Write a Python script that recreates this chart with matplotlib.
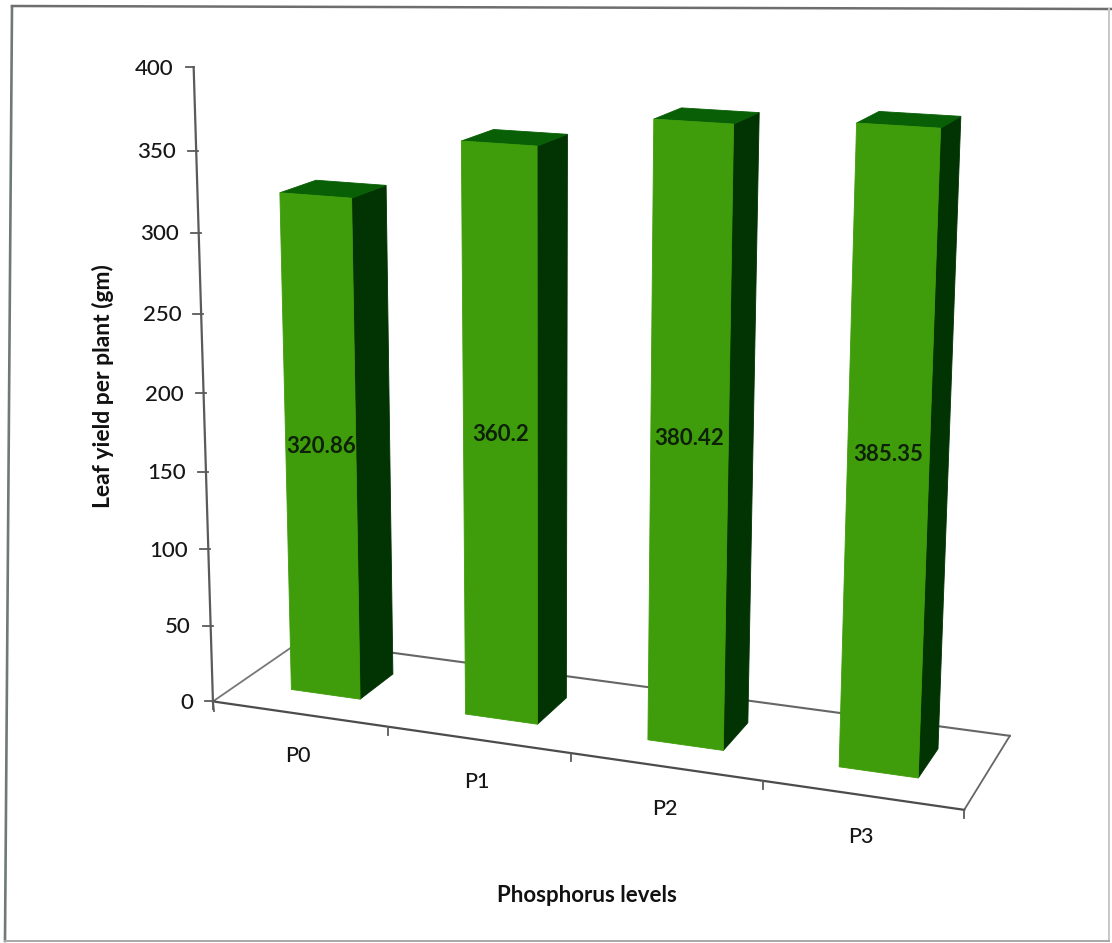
import numpy as np
import matplotlib
matplotlib.use("Agg")
import matplotlib.pyplot as plt
from matplotlib.patches import Polygon

# Chart data
categories = ["P0", "P1", "P2", "P3"]
leaf_yield = [320.86, 360.2, 380.42, 385.35]
value_labels = ["320.86", "360.2", "380.42", "385.35"]
value_ticks = [0, 50, 100, 150, 200, 250, 300, 350, 400]
x_title = "Phosphorus levels"
y_title = "Leaf yield per plant (gm)"

# Box proportions within a category slot (gap width and gap depth of 150%)
BAR_SPAN = (0.30, 0.70)
DEPTH_SPAN = (0.30, 0.70)
FLOOR_DEPTH = 1.0

# Colours
FRONT = "#3f9d0b"
TOP = "#085f05"
SIDE = "#023303"
AXIS = "#5a5a5a"
INK = "#161616"

plt.rcParams["font.family"] = ["Lato", "DejaVu Sans"]

# Perspective camera: solved from (slot, value, depth) -> canvas anchor pairs
view_world = np.array([
    (0, 0, 0), (4, 0, 0), (4, 0, 1), (0, 0, 1),
    (0, 100, 0), (0, 200, 0), (0, 300, 0), (0, 400, 0),
    (1, 0, 0), (2, 0, 0), (3, 0, 0),
    (3.3, 385.35, 0.3), (3.7, 385.35, 0.7), (0.3, 320.86, 0.3), (1.7, 360.2, 0.7),
], float)
view_canvas = np.array([
    (213, 701), (963, 808), (1010, 736), (301, 640),
    (208, 549), (204, 392), (198, 232), (193, 68),
    (388, 727), (571, 755), (763, 782),
    (857, 123), (961, 115), (281, 193), (567, 136),
], float)


def solve_camera(world, canvas):
    rows, rhs = [], []
    for (a, b, c), (px, py) in zip(world, canvas):
        rows.append([a, b, c, 1, 0, 0, 0, 0, -px * a, -px * b, -px * c])
        rows.append([0, 0, 0, 0, a, b, c, 1, -py * a, -py * b, -py * c])
        rhs += [px, py]
    sol = np.linalg.lstsq(np.array(rows), np.array(rhs), rcond=None)[0]
    return np.append(sol, 1.0).reshape(3, 4)


CAMERA = solve_camera(view_world, view_canvas)


def project(slot, value, depth):
    p = CAMERA @ np.array([slot, value, depth, 1.0])
    return p[0] / p[2], p[1] / p[2]


fig = plt.figure(figsize=(11.12, 9.43), dpi=100, facecolor="white")
ax = fig.add_axes([0, 0, 1, 1])
ax.set_xlim(0, 1112)
ax.set_ylim(943, 0)
ax.axis("off")

# Outer chart frame, slightly skewed on the left
ax.plot([12, 5], [7, 941], color="#6f7a78", lw=1.9)
ax.plot([12, 1112], [6, 9], color="#6e6e6e", lw=1.8)
ax.plot([1109, 1109], [9, 941], color="#c8c8c8", lw=1.4)
ax.plot([5, 1109], [941, 941], color="#a8a8a8", lw=1.4)

# Floor outline
n = len(categories)
floor = [project(0, 0, 0), project(n, 0, 0), project(n, 0, FLOOR_DEPTH), project(0, 0, FLOOR_DEPTH)]
ax.plot(*zip(floor[0], floor[3]), color="#777777", lw=1.3, zorder=1)
ax.plot(*zip(floor[3], floor[2]), color="#666666", lw=1.5, zorder=1)
ax.plot(*zip(floor[2], floor[1]), color="#666666", lw=1.3, zorder=1)
ax.plot(*zip(floor[0], floor[1]), color="#4c4c4c", lw=1.6, zorder=1)

# Category ticks and labels along the front edge
for i in range(n + 1):
    x, y = project(i, 0, 0)
    ax.plot([x, x], [y, y + 8], color=AXIS, lw=1.3, zorder=1)
for i, name in enumerate(categories):
    x, y = project(i + 0.5, 0, 0)
    ax.text(x - 1, y + 42, name, ha="center", va="center", fontsize=15.5,
            fontweight="medium", color=INK)

# Value axis, ticks and labels
ax.plot(*zip(project(0, 0, 0), project(0, value_ticks[-1], 0)), color=AXIS, lw=1.6, zorder=1)
ax.plot([213, 214], [701, 711], color=AXIS, lw=1.3, zorder=1)
for v in value_ticks:
    x, y = project(0, v, 0)
    ax.plot([x - 8, x + (0 if v == value_ticks[-1] else 2)], [y, y], color=AXIS, lw=1.3, zorder=1)
    ax.text(x - 20, y + 1.5, str(v), ha="right", va="center", fontsize=16,
            fontweight="medium", color=INK)

# Bars
for i, h in enumerate(leaf_yield):
    u0, u1 = i + BAR_SPAN[0], i + BAR_SPAN[1]
    v0, v1 = DEPTH_SPAN
    fl0, fr0 = project(u0, 0, v0), project(u1, 0, v0)
    fl1, fr1 = project(u0, h, v0), project(u1, h, v0)
    br0, br1 = project(u1, 0, v1), project(u1, h, v1)
    bl1 = project(u0, h, v1)
    ax.add_patch(Polygon([fr0, br0, br1, fr1], closed=True, fc=SIDE, ec=SIDE, lw=0.6, zorder=3))
    ax.add_patch(Polygon([fl1, fr1, br1, bl1], closed=True, fc=TOP, ec=TOP, lw=0.6, zorder=3))
    ax.add_patch(Polygon([fl0, fr0, fr1, fl1], closed=True, fc=FRONT, ec=FRONT, lw=0.6, zorder=4))
    lx, ly = project(i + 0.5, h / 2, v0)
    ax.text(lx, ly - 4, value_labels[i], ha="center", va="center", fontsize=16,
            fontweight="bold", color="#0c200a", zorder=5)

# Axis titles
ax.text(103, 386, y_title, rotation=90, ha="center", va="center", fontsize=16.5,
        fontweight="bold", color="#111111")
ax.text(587, 896, x_title, ha="center", va="center", fontsize=16,
        fontweight="bold", color="#111111")

fig.savefig("out.png", dpi=100, facecolor="white")
